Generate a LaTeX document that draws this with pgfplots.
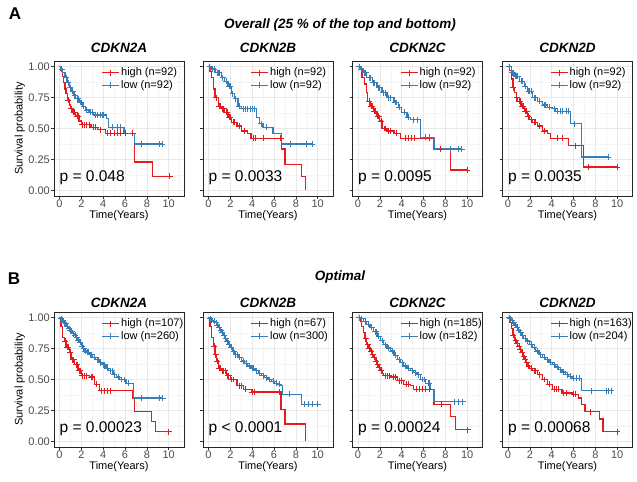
\documentclass[border=0pt]{standalone}
\usepackage{fontspec}
\setmainfont{Liberation Sans}
\usepackage{pgfplots}
\pgfplotsset{compat=1.18}
\definecolor{kmred}{HTML}{E41A1C}
\definecolor{kmblue}{HTML}{377EB8}
\newcommand{\fs}[1]{\fontsize{#1bp}{#1bp}\selectfont}
\newcommand{\km}[3]{%
\addplot[forget plot, const plot, draw=#1, color=#1, line width=1.3pt] coordinates {#2};
\addplot[forget plot, only marks, mark=+, mark size=3pt, color=#1, mark options={line width=0.7pt}] coordinates {#3};}
\pgfplotsset{
 every axis title shift=0pt,
 km/.style={
  scale only axis, width=130bp, height=135bp, anchor=north west,
  xmin=-0.5, xmax=11.4, ymin=-0.045, ymax=1.045,
  xtick={0,2,...,10}, ytick={0,0.25,0.5,0.75,1},
  minor xtick={1,3,...,11}, minor ytick={0.125,0.375,0.625,0.875},
  grid=both, major grid style={draw=black!9, line width=0.5pt}, minor grid style={draw=black!4.5, line width=0.35pt},
  tick align=outside, tick pos=left, major tick length=3bp, minor tick length=0pt,
  tick style={black!80, line width=0.6pt},
  axis line style={black!85, line width=0.7pt},
  /pgf/number format/assume math mode=true,
  ticklabel style={font=\fs{11}, text=black!70, inner sep=1pt},
  yticklabel style={/pgf/number format/fixed, /pgf/number format/precision=2, /pgf/number format/fixed zerofill},
  xlabel={Time(Years)}, xlabel style={font=\fs{11}, at={(axis description cs:0.5,0)}, anchor=north, yshift=-14bp, inner sep=0pt},
  title style={font=\fs{13.5}\bfseries\itshape, at={(axis description cs:0.5,1)}, anchor=south, inner sep=0pt},
  legend style={at={(axis description cs:0.365,1)}, anchor=north west, yshift=-5.5bp, draw=none, fill=none, inner sep=0pt, font=\fs{11}, row sep=1pt, nodes={inner sep=1.2pt}},
  legend cell align=left,
 },
 first/.style={ylabel={Survival probability}, ylabel style={font=\fs{11}, at={(axis description cs:-0.223,0.5)}, anchor=south, inner sep=0pt}},
 other/.style={yticklabels={}},
 rowA/.style={title style={yshift=8bp}},
 rowB/.style={title style={yshift=4.5bp}},
 hi/.style={color=kmred, line width=1.3pt, mark=+, mark size=3pt, mark options={line width=0.7pt}},
 lo/.style={color=kmblue, line width=1.3pt, mark=+, mark size=3pt, mark options={line width=0.7pt}},
}
\newcommand{\pval}[1]{\node[anchor=west, inner sep=0pt, font=\fs{15.5}] at (axis cs:0,0.1) {#1};}
\begin{document}
\begin{tikzpicture}
\path[use as bounding box] (0bp,0bp) rectangle (637bp,-482bp);
\node[font=\fs{17}\bfseries] at (15bp,-14bp) {A};
\node[font=\fs{17}\bfseries] at (14bp,-279bp) {B};
\node[font=\fs{13.5}\bfseries\itshape] at (340bp,-25bp) {Overall (25 \% of the top and bottom)};
\node[font=\fs{13.5}\bfseries\itshape] at (340bp,-277bp) {Optimal};

% ---------------- Row A ----------------
\begin{axis}[km, first, rowA, at={(54bp,-61bp)}, title={CDKN2A}]
\addlegendimage{hi}\addlegendentry{high (n=92)}
\addlegendimage{lo}\addlegendentry{low (n=92)}
\km{kmred}{(0,1) (0.1,0.97) (0.25,0.92) (0.4,0.87) (0.5,0.82) (0.6,0.78) (0.75,0.73) (0.9,0.69) (1.0,0.66) (1.2,0.63) (1.5,0.60) (1.8,0.56) (2.0,0.53) (2.9,0.51) (3.5,0.49) (4.2,0.46) (6.9,0.23) (8.5,0.115) (10.1,0.115)}
{(0.8,0.73) (1.1,0.66) (1.3,0.63) (1.4,0.63) (1.6,0.60) (1.7,0.60) (2.1,0.53) (2.3,0.53) (2.5,0.53) (2.7,0.53) (3.1,0.51) (3.3,0.51) (3.7,0.49) (4.4,0.46) (4.7,0.46) (5.0,0.46) (5.3,0.46) (5.6,0.46) (6.0,0.46) (6.7,0.46) (10.1,0.115)}
\km{kmblue}{(0,1) (0.1,0.98) (0.3,0.95) (0.5,0.91) (0.7,0.87) (0.9,0.83) (1.1,0.80) (1.3,0.77) (1.5,0.74) (1.8,0.71) (2.1,0.68) (2.4,0.65) (2.7,0.63) (3.1,0.61) (4.3,0.58) (4.5,0.51) (5.9,0.46) (6.9,0.375) (9.5,0.375)}
{(0.2,0.98) (0.6,0.91) (0.8,0.87) (1.0,0.83) (1.2,0.80) (1.4,0.77) (1.6,0.74) (1.7,0.74) (1.9,0.71) (2.0,0.71) (2.2,0.68) (2.5,0.65) (2.8,0.63) (3.0,0.63) (3.3,0.61) (3.5,0.61) (3.7,0.61) (3.9,0.61) (4.0,0.61) (4.8,0.51) (5.3,0.51) (5.6,0.51) (7.5,0.375) (9.1,0.375) (9.4,0.375)}
\pval{p = 0.048}
\end{axis}

\begin{axis}[km, other, rowA, at={(203bp,-61bp)}, title={CDKN2B}]
\addlegendimage{hi}\addlegendentry{high (n=92)}
\addlegendimage{lo}\addlegendentry{low (n=92)}
\km{kmred}{(0,1) (0.15,0.96) (0.3,0.91) (0.45,0.82) (0.6,0.75) (0.9,0.68) (1.2,0.66) (1.5,0.63) (1.8,0.59) (2.1,0.55) (2.6,0.52) (3.0,0.48) (3.6,0.46) (3.9,0.42) (6.7,0.335) (7.0,0.21) (8.5,0.11) (8.9,0.0)}
{(0.7,0.75) (1.0,0.68) (1.1,0.68) (1.3,0.66) (1.4,0.66) (1.6,0.63) (1.7,0.63) (1.9,0.59) (2.0,0.59) (2.3,0.55) (2.4,0.55) (2.8,0.52) (3.3,0.48) (4.1,0.42) (4.3,0.42) (5.0,0.42) (6.6,0.42)}
\km{kmblue}{(0,1) (0.3,0.98) (0.6,0.95) (1.2,0.91) (1.5,0.88) (1.8,0.84) (2.1,0.78) (2.4,0.74) (2.7,0.68) (3.0,0.66) (4.4,0.59) (4.7,0.54) (5.0,0.51) (5.9,0.46) (6.7,0.375) (9.6,0.375)}
{(0.1,1) (0.4,0.98) (0.5,0.98) (0.8,0.95) (0.9,0.95) (1.0,0.95) (1.3,0.91) (1.6,0.88) (1.9,0.84) (2.0,0.84) (2.2,0.78) (2.5,0.74) (2.8,0.68) (3.2,0.66) (3.4,0.66) (3.6,0.66) (3.8,0.66) (4.0,0.66) (4.2,0.66) (4.8,0.54) (5.3,0.51) (7.5,0.375) (9.0,0.375) (9.5,0.375)}
\pval{p = 0.0033}
\end{axis}

\begin{axis}[km, other, rowA, at={(352.5bp,-61bp)}, title={CDKN2C}]
\addlegendimage{hi}\addlegendentry{high (n=92)}
\addlegendimage{lo}\addlegendentry{low (n=92)}
\km{kmred}{(0,1) (0.2,0.98) (0.37,0.91) (0.6,0.86) (0.75,0.79) (0.9,0.72) (1.1,0.68) (1.45,0.64) (1.75,0.60) (2.0,0.56) (2.2,0.50) (2.65,0.48) (3.3,0.46) (3.9,0.42) (6.95,0.335) (8.5,0.165) (10.0,0.165)}
{(1.0,0.72) (1.2,0.68) (1.3,0.68) (1.5,0.64) (1.6,0.64) (1.8,0.60) (1.9,0.60) (2.1,0.56) (2.4,0.50) (2.5,0.50) (2.8,0.48) (3.0,0.48) (3.5,0.46) (4.3,0.42) (4.6,0.42) (4.9,0.42) (5.2,0.42) (6.5,0.42) (7.5,0.335) (10.0,0.165)}
\km{kmblue}{(0,1) (0.2,0.98) (0.5,0.95) (0.8,0.91) (1.3,0.87) (1.75,0.83) (2.2,0.79) (2.65,0.75) (3.3,0.71) (3.7,0.67) (4.0,0.63) (4.5,0.59) (4.8,0.57) (5.7,0.43) (6.95,0.335) (9.5,0.335)}
{(0.1,1) (0.3,0.98) (0.6,0.95) (0.7,0.95) (1.0,0.91) (1.1,0.91) (1.4,0.87) (1.5,0.87) (1.9,0.83) (2.0,0.83) (2.3,0.79) (2.5,0.79) (2.8,0.75) (3.0,0.75) (3.4,0.71) (3.5,0.71) (3.8,0.67) (4.2,0.63) (4.6,0.59) (5.1,0.57) (5.4,0.57) (6.2,0.43) (6.5,0.43) (8.5,0.335) (9.2,0.335) (9.5,0.335)}
\pval{p = 0.0095}
\end{axis}

\begin{axis}[km, other, rowA, at={(502.5bp,-61bp)}, title={CDKN2D}]
\addlegendimage{hi}\addlegendentry{high (n=92)}
\addlegendimage{lo}\addlegendentry{low (n=92)}
\km{kmred}{(0,1) (0.15,0.97) (0.3,0.90) (0.45,0.83) (0.6,0.79) (0.75,0.75) (0.9,0.72) (1.2,0.68) (1.5,0.64) (1.8,0.60) (1.95,0.57) (2.25,0.55) (2.7,0.52) (3.15,0.48) (3.6,0.46) (3.9,0.42) (5.55,0.36) (6.9,0.19) (10.0,0.19)}
{(0.5,0.83) (0.8,0.75) (1.0,0.72) (1.1,0.72) (1.3,0.68) (1.4,0.68) (1.6,0.64) (1.7,0.64) (1.85,0.60) (2.1,0.57) (2.4,0.55) (2.5,0.55) (2.9,0.52) (3.3,0.48) (4.5,0.42) (5.0,0.42) (6.2,0.36) (7.4,0.19) (10.0,0.19)}
\km{kmblue}{(0,1) (0.3,0.95) (0.6,0.92) (1.05,0.88) (1.5,0.84) (1.8,0.80) (2.25,0.75) (2.7,0.72) (3.15,0.69) (3.6,0.67) (4.05,0.66) (4.35,0.64) (5.7,0.54) (6.75,0.27) (9.2,0.27)}
{(0.1,1) (0.4,0.95) (0.5,0.95) (0.7,0.92) (0.8,0.92) (0.9,0.92) (1.2,0.88) (1.3,0.88) (1.6,0.84) (1.9,0.80) (2.0,0.80) (2.1,0.80) (2.4,0.75) (2.5,0.75) (2.9,0.72) (3.3,0.69) (3.4,0.69) (3.8,0.67) (4.2,0.66) (4.5,0.64) (4.8,0.64) (5.0,0.64) (5.3,0.64) (5.5,0.64) (6.1,0.54) (9.2,0.27)}
\pval{p = 0.0035}
\end{axis}

% ---------------- Row B ----------------
\begin{axis}[km, first, rowB, at={(54bp,-312bp)}, title={CDKN2A}]
\addlegendimage{hi}\addlegendentry{high (n=107)}
\addlegendimage{lo}\addlegendentry{low (n=260)}
\km{kmred}{(0,1) (0.15,0.93) (0.3,0.84) (0.45,0.81) (0.6,0.76) (0.9,0.72) (1.05,0.66) (1.4,0.62) (1.7,0.57) (2.0,0.53) (2.75,0.52) (3.2,0.46) (3.65,0.41) (6.7,0.35) (6.85,0.24) (8.4,0.16) (8.8,0.08) (10.0,0.08)}
{(0.5,0.81) (0.7,0.76) (0.8,0.76) (1.0,0.72) (1.2,0.66) (1.3,0.66) (1.5,0.62) (1.6,0.62) (1.8,0.57) (1.9,0.57) (2.1,0.53) (2.3,0.53) (2.5,0.53) (2.9,0.52) (3.0,0.52) (3.4,0.46) (3.8,0.41) (4.1,0.41) (4.4,0.41) (4.7,0.41) (10.0,0.08)}
\km{kmblue}{(0,1) (0.1,0.99) (0.2,0.98) (0.35,0.96) (0.5,0.95) (0.65,0.93) (0.8,0.91) (0.95,0.90) (1.05,0.89) (1.2,0.87) (1.35,0.86) (1.5,0.84) (1.65,0.82) (1.8,0.80) (2.0,0.77) (2.15,0.75) (2.3,0.73) (2.45,0.72) (2.7,0.70) (3.05,0.68) (3.3,0.66) (3.65,0.635) (3.9,0.62) (4.25,0.59) (4.5,0.57) (4.9,0.54) (5.2,0.52) (5.5,0.50) (6.1,0.47) (6.75,0.35) (9.45,0.35)}
{(0.15,0.99) (0.28,0.98) (0.42,0.96) (0.58,0.95) (0.72,0.93) (0.88,0.91) (1.0,0.90) (1.12,0.89) (1.28,0.87) (1.42,0.86) (1.58,0.84) (1.72,0.82) (1.9,0.80) (2.08,0.77) (2.22,0.75) (2.38,0.73) (2.55,0.72) (2.62,0.72) (2.85,0.70) (2.95,0.70) (3.15,0.68) (3.45,0.66) (3.55,0.66) (3.75,0.635) (4.05,0.62) (4.15,0.62) (4.35,0.59) (4.65,0.57) (4.8,0.57) (5.0,0.54) (5.35,0.52) (5.7,0.50) (5.9,0.50) (6.3,0.47) (7.5,0.35) (9.1,0.35) (9.45,0.35)}
\pval{p = 0.00023}
\end{axis}

\begin{axis}[km, other, rowB, at={(203bp,-312bp)}, title={CDKN2B}]
\addlegendimage{hi}\addlegendentry{high (n=67)}
\addlegendimage{lo}\addlegendentry{low (n=300)}
\km{kmred}{(0,1) (0.15,0.93) (0.3,0.84) (0.45,0.77) (0.6,0.70) (0.75,0.65) (0.9,0.59) (1.2,0.57) (1.65,0.53) (2.0,0.50) (2.6,0.45) (3.2,0.42) (3.95,0.40) (6.65,0.26) (7.0,0.14) (8.9,0.0)}
{(0.5,0.77) (0.65,0.70) (0.8,0.65) (1.0,0.59) (1.1,0.59) (1.3,0.57) (1.4,0.57) (1.5,0.57) (1.75,0.53) (1.85,0.53) (2.1,0.50) (2.3,0.50) (2.8,0.45) (3.0,0.45) (3.4,0.42) (4.0,0.40) (4.2,0.40) (6.5,0.40)}
\km{kmblue}{(0,1) (0.1,0.99) (0.25,0.98) (0.4,0.97) (0.6,0.96) (0.75,0.94) (0.9,0.92) (1.05,0.90) (1.2,0.88) (1.35,0.86) (1.5,0.83) (1.65,0.81) (1.8,0.78) (2.0,0.76) (2.2,0.73) (2.4,0.70) (2.7,0.68) (3.0,0.65) (3.3,0.63) (3.6,0.61) (3.9,0.59) (4.25,0.57) (4.55,0.55) (4.85,0.53) (5.15,0.515) (5.45,0.50) (5.75,0.485) (6.05,0.47) (6.35,0.46) (6.65,0.45) (6.8,0.38) (8.5,0.30) (10.0,0.30)}
{(0.15,0.99) (0.3,0.98) (0.5,0.97) (0.68,0.96) (0.82,0.94) (0.98,0.92) (1.12,0.90) (1.28,0.88) (1.42,0.86) (1.58,0.83) (1.72,0.81) (1.9,0.78) (2.1,0.76) (2.3,0.73) (2.5,0.70) (2.6,0.70) (2.85,0.68) (3.15,0.65) (3.45,0.63) (3.75,0.61) (4.05,0.59) (4.15,0.59) (4.4,0.57) (4.7,0.55) (5.0,0.53) (5.3,0.515) (5.6,0.50) (5.9,0.485) (6.2,0.47) (6.5,0.46) (7.4,0.38) (8.8,0.30) (9.1,0.30) (9.5,0.30) (10.0,0.30)}
\pval{p < 0.0001}
\end{axis}

\begin{axis}[km, other, rowB, at={(352.5bp,-312bp)}, title={CDKN2C}]
\addlegendimage{hi}\addlegendentry{high (n=185)}
\addlegendimage{lo}\addlegendentry{low (n=182)}
\km{kmred}{(0,1) (0.2,0.97) (0.35,0.93) (0.5,0.88) (0.65,0.83) (0.8,0.78) (0.95,0.755) (1.1,0.73) (1.3,0.70) (1.45,0.68) (1.6,0.65) (1.75,0.62) (1.9,0.595) (2.05,0.57) (2.2,0.55) (2.35,0.53) (3.0,0.52) (3.6,0.49) (4.2,0.46) (4.8,0.45) (5.1,0.42) (6.95,0.30) (8.5,0.20) (8.9,0.095) (10.05,0.095)}
{(0.7,0.83) (0.9,0.78) (1.0,0.755) (1.2,0.73) (1.35,0.70) (1.5,0.68) (1.65,0.65) (1.8,0.62) (1.95,0.595) (2.1,0.57) (2.5,0.53) (2.7,0.53) (2.85,0.53) (3.2,0.52) (3.4,0.52) (3.8,0.49) (4.0,0.49) (4.4,0.46) (4.6,0.46) (5.3,0.42) (5.6,0.42) (5.9,0.42) (6.2,0.42) (6.5,0.42) (7.6,0.30) (10.05,0.095)}
\km{kmblue}{(0,1) (0.2,0.99) (0.5,0.97) (0.8,0.945) (1.1,0.92) (1.4,0.885) (1.75,0.85) (2.05,0.815) (2.35,0.78) (2.65,0.755) (3.0,0.73) (3.3,0.695) (3.6,0.66) (3.9,0.635) (4.2,0.61) (4.5,0.59) (4.8,0.57) (5.1,0.555) (5.4,0.54) (5.7,0.50) (6.2,0.47) (6.65,0.42) (6.95,0.32) (9.65,0.32)}
{(0.1,1) (0.35,0.99) (0.65,0.97) (0.95,0.945) (1.25,0.92) (1.55,0.885) (1.65,0.885) (1.9,0.85) (2.2,0.815) (2.5,0.78) (2.8,0.755) (3.15,0.73) (3.45,0.695) (3.75,0.66) (4.05,0.635) (4.35,0.61) (4.65,0.59) (4.95,0.57) (5.25,0.555) (5.55,0.54) (5.9,0.50) (6.05,0.50) (6.4,0.47) (6.5,0.47) (8.8,0.32) (9.2,0.32) (9.6,0.32)}
\pval{p = 0.00024}
\end{axis}

\begin{axis}[km, other, rowB, at={(502.5bp,-312bp)}, title={CDKN2D}]
\addlegendimage{hi}\addlegendentry{high (n=163)}
\addlegendimage{lo}\addlegendentry{low (n=204)}
\km{kmred}{(0,1) (0.15,0.96) (0.3,0.91) (0.45,0.86) (0.6,0.82) (0.75,0.795) (0.9,0.77) (1.05,0.745) (1.2,0.72) (1.35,0.69) (1.5,0.66) (1.65,0.635) (1.8,0.61) (2.0,0.59) (2.25,0.57) (2.7,0.54) (3.15,0.50) (3.6,0.46) (4.05,0.42) (4.95,0.39) (5.85,0.38) (6.45,0.35) (6.75,0.30) (7.05,0.24) (8.4,0.18) (8.7,0.08) (10.0,0.08)}
{(0.5,0.86) (0.7,0.82) (0.85,0.795) (1.0,0.77) (1.1,0.745) (1.3,0.72) (1.45,0.69) (1.6,0.66) (1.7,0.635) (1.9,0.61) (2.1,0.59) (2.4,0.57) (2.55,0.57) (2.9,0.54) (3.3,0.50) (3.8,0.46) (4.2,0.42) (4.4,0.42) (4.6,0.42) (5.1,0.39) (5.3,0.39) (6.0,0.38) (6.2,0.38) (7.5,0.24) (10.0,0.08)}
\km{kmblue}{(0,1) (0.15,0.99) (0.3,0.975) (0.45,0.96) (0.6,0.94) (0.75,0.92) (0.9,0.90) (1.05,0.88) (1.25,0.855) (1.45,0.83) (1.65,0.81) (1.95,0.785) (2.25,0.76) (2.55,0.73) (2.85,0.70) (3.15,0.68) (3.45,0.66) (3.75,0.64) (4.05,0.62) (4.35,0.60) (4.65,0.58) (4.95,0.56) (5.25,0.54) (5.55,0.525) (5.85,0.51) (6.75,0.41) (9.45,0.41)}
{(0.1,1) (0.22,0.99) (0.38,0.975) (0.52,0.96) (0.68,0.94) (0.82,0.92) (0.98,0.90) (1.15,0.88) (1.35,0.855) (1.55,0.83) (1.8,0.81) (2.1,0.785) (2.4,0.76) (2.7,0.73) (3.0,0.70) (3.3,0.68) (3.6,0.66) (3.9,0.64) (4.2,0.62) (4.5,0.60) (4.8,0.58) (5.1,0.56) (5.4,0.54) (5.7,0.525) (6.0,0.51) (6.3,0.51) (6.5,0.51) (7.6,0.41) (9.0,0.41) (9.2,0.41) (9.45,0.41)}
\pval{p = 0.00068}
\end{axis}
\end{tikzpicture}
\end{document}
